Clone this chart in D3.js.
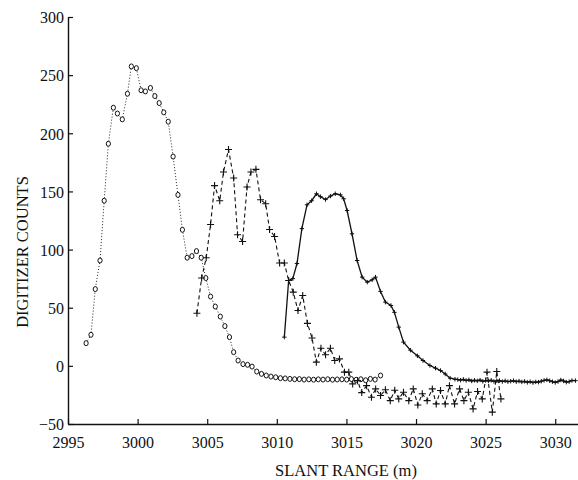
<!DOCTYPE html>
<html>
<head>
<meta charset="utf-8">
<script src="https://cdn.jsdelivr.net/npm/d3@7"></script>
<style>
  body { margin: 0; background: #fff; }
  text { font-family: "Liberation Serif", "Times New Roman", serif; fill: #111; }
</style>
</head>
<body>
<script>
// tick labels
var xTicks = [2995, 3000, 3005, 3010, 3015, 3020, 3025, 3030];
var yTicks = [-50, 0, 50, 100, 150, 200, 250, 300];

// circle series (dotted)
var circX = [2996.30, 2996.65, 2996.96, 2997.30, 2997.60, 2997.90, 2998.26, 2998.55, 2998.90, 2999.27,
  2999.55, 2999.91, 3000.25, 3000.56, 3000.92, 3001.24, 3001.55, 3001.88, 3002.20, 3002.55,
  3002.90, 3003.22, 3003.56, 3003.90, 3004.23, 3004.57, 3004.90, 3005.24, 3005.58, 3005.94,
  3006.27, 3006.60, 3006.90, 3007.22, 3007.57, 3007.90, 3008.22, 3008.56, 3008.90, 3009.24,
  3009.58, 3009.92, 3010.26, 3010.60, 3010.94, 3011.28, 3011.62, 3011.96, 3012.30, 3012.64,
  3012.98, 3013.32, 3013.66, 3014.00, 3014.34, 3014.68, 3015.02, 3015.36, 3015.70, 3016.04,
  3016.38, 3016.72, 3017.06, 3017.45];
var circY = [19.5, 26.7, 66, 90.6, 142, 191, 222, 217, 212, 234,
  257.5, 256, 237, 236, 239, 232, 226, 218, 210, 180,
  147, 117, 93, 94.4, 98.7, 93, 75.5, 59.6, 51, 42.4,
  34.2, 24.7, 11.8, 4.6, 1.5, 0.9, -0.6, -4.9, -6.9, -8.3,
  -9.2, -9.8, -10.6, -10.8, -11.2, -11.5, -11.4, -11.8, -11.6, -11.9,
  -11.6, -11.8, -11.5, -11.9, -11.7, -11.6, -11.8, -11.4, -12.0, -11.5,
  -12.4, -11.2, -11.8, -8.3];

// plus series (dashed)
var plusX = [3004.26, 3004.60, 3004.93, 3005.24, 3005.53, 3005.90, 3006.17, 3006.53, 3006.90, 3007.18,
  3007.54, 3007.86, 3008.14, 3008.50, 3008.83, 3009.20, 3009.48, 3009.84, 3010.20, 3010.54,
  3010.85, 3011.18, 3011.52, 3011.86, 3012.20, 3012.53, 3012.84, 3013.17, 3013.50, 3013.85,
  3014.16, 3014.50, 3014.86, 3015.17, 3015.45, 3015.80, 3016.10, 3016.45, 3016.80, 3017.10,
  3017.45, 3017.80, 3018.15, 3018.47, 3018.76, 3019.10, 3019.48, 3019.80, 3020.13, 3020.45,
  3020.80, 3021.17, 3021.45, 3021.76, 3022.10, 3022.40, 3022.77, 3023.13, 3023.44, 3023.76,
  3024.10, 3024.42, 3024.76, 3025.10, 3025.48, 3025.80, 3026.10];
var plusY = [45.3, 75.5, 93, 121.5, 155, 142, 166.7, 186, 161.5, 112.7,
  107, 153.8, 166.7, 169, 142.9, 139.4, 117.3, 111.3, 88.4, 88.4,
  73.4, 63.4, 47.6, 60.5, 36.5, 24, 3.2, 15.2, 9.5, 15.2,
  4.6, 6, -5.4, -5.4, -15.5, -12.7, -23, -17, -27, -19.8,
  -25.5, -20.6, -29.9, -21, -28.4, -22.7, -29.9, -19.8, -33.6, -24,
  -29.9, -19.8, -32.7, -21.2, -32.7, -17, -32.7, -19.8, -29.9, -22.7,
  -37, -22, -28.4, -5.4, -39.8, -4.9, -28.4];

// solid series (small crosses)
var solidX = [3010.54, 3010.85, 3011.15, 3011.45, 3011.80, 3012.17, 3012.50, 3012.85, 3013.13, 3013.50,
  3013.85, 3014.20, 3014.57, 3014.80, 3015.05, 3015.40, 3015.77, 3016.13, 3016.50, 3016.85,
  3017.09, 3017.45, 3017.80, 3018.20, 3018.45, 3018.76, 3019.10, 3019.60, 3020.10, 3020.50,
  3021.00, 3021.40, 3021.76, 3022.10, 3022.45, 3022.80, 3023.00, 3023.20, 3023.40, 3023.60,
  3023.80, 3024.00, 3024.20, 3024.40, 3024.60, 3024.80, 3025.00, 3025.20, 3025.40, 3025.60,
  3025.80, 3026.00, 3026.20, 3026.40, 3026.60, 3026.80, 3027.00, 3027.20, 3027.40, 3027.60,
  3027.80, 3028.00, 3028.20, 3028.40, 3028.60, 3028.80, 3029.00, 3029.20, 3029.40, 3029.60,
  3029.80, 3030.00, 3030.20, 3030.40, 3030.60, 3030.80, 3031.00, 3031.20, 3031.45];
var solidY = [24.7, 73.4, 75, 88, 118, 138.5, 142, 148, 145.5, 143,
  146, 148, 147, 143.7, 133.6, 113.6, 90.6, 76.3, 72, 74,
  76.3, 64, 54.8, 51.9, 46, 33.3, 20.4, 13.5, 8.6, 4.6,
  0.3, -2, -4, -7, -10.6, -11.5, -11.8, -12.3, -11.6, -12.6,
  -12.0, -13.0, -12.4, -12.9, -12.2, -13.3, -12.6, -13.0, -12.4, -13.4,
  -12.8, -12.7, -13.5, -12.9, -13.6, -13.2, -12.7, -13.6, -13.1, -13.8,
  -13.3, -14.2, -13.6, -14.4, -13.8, -14.0, -13.2, -12.5, -12.0, -12.8,
  -13.6, -14.3, -13.5, -12.2, -13.0, -14.0, -13.6, -12.6, -12.7];

var width = 578, height = 480;
var svg = d3.select("body").append("svg")
  .attr("width", width)
  .attr("height", height);

var x = d3.scaleLinear().domain([2995, 3031.6]).range([68, 577.5]);
var y = d3.scaleLinear().domain([-50, 300]).range([424, 17]);

// axes (ticks pointing inward)
var xAxis = svg.append("g")
  .attr("transform", "translate(0," + y(-50) + ")")
  .call(d3.axisBottom(x).tickValues(xTicks).tickSizeInner(-5).tickSizeOuter(0).tickPadding(9).tickFormat(d3.format("d")));
var yAxis = svg.append("g")
  .attr("transform", "translate(" + x(2995) + ",0)")
  .call(d3.axisLeft(y).tickValues(yTicks).tickSizeInner(-5).tickSizeOuter(0).tickPadding(4).tickFormat(d3.format("d")));

[xAxis, yAxis].forEach(function(a) {
  a.selectAll("path.domain").attr("stroke", "#111").attr("stroke-width", 1.4);
  a.selectAll(".tick line").attr("stroke", "#111").attr("stroke-width", 1.2);
  a.selectAll(".tick text").attr("font-size", 16).attr("font-family", "Liberation Serif").attr("fill", "#111");
});
yAxis.selectAll(".tick text").attr("x", -4).attr("dy", "0.36em");
xAxis.selectAll(".tick text").attr("dy", "0.95em");

// axis titles
svg.append("text")
  .attr("x", 346).attr("y", 476)
  .attr("text-anchor", "middle")
  .attr("font-size", 16.5)
  .text("SLANT RANGE (m)");
svg.append("text")
  .attr("transform", "translate(28,252) rotate(-90)")
  .attr("text-anchor", "middle")
  .attr("font-size", 16.5)
  .text("DIGITIZER COUNTS");

function pts(xs, ys) {
  return xs.map(function(v, i) { return [v, ys[i]]; });
}
var line = d3.line().x(function(d) { return x(d[0]); }).y(function(d) { return y(d[1]); });

var circ = pts(circX, circY), plus = pts(plusX, plusY), solid = pts(solidX, solidY);

// lines
svg.append("path").datum(circ)
  .attr("d", line).attr("fill", "none")
  .attr("stroke", "#222").attr("stroke-width", 1)
  .attr("stroke-dasharray", "1,2");
svg.append("path").datum(plus)
  .attr("d", line).attr("fill", "none")
  .attr("stroke", "#111").attr("stroke-width", 1.1)
  .attr("stroke-dasharray", "4,3");
svg.append("path").datum(solid)
  .attr("d", line).attr("fill", "none")
  .attr("stroke", "#111").attr("stroke-width", 1.3);

// markers
svg.append("g").selectAll("ellipse")
  .data(circ).enter().append("ellipse")
  .attr("cx", function(d) { return x(d[0]); })
  .attr("cy", function(d) { return y(d[1]); })
  .attr("rx", 2.1).attr("ry", 2.5)
  .attr("fill", "#fff").attr("stroke", "#111").attr("stroke-width", 1);

svg.append("g").selectAll("path")
  .data(plus).enter().append("path")
  .attr("d", function(d) {
    var cx = x(d[0]), cy = y(d[1]), s = 3.5;
    return "M" + (cx - s) + "," + cy + "H" + (cx + s) + "M" + cx + "," + (cy - s) + "V" + (cy + s);
  })
  .attr("stroke", "#111").attr("stroke-width", 1.1);

svg.append("g").selectAll("path")
  .data(solid).enter().append("path")
  .attr("d", function(d) {
    var cx = x(d[0]), cy = y(d[1]), s = 2.2;
    return "M" + (cx - s) + "," + cy + "H" + (cx + s) + "M" + cx + "," + (cy - s) + "V" + (cy + s);
  })
  .attr("stroke", "#111").attr("stroke-width", 1);
</script>
</body>
</html>
